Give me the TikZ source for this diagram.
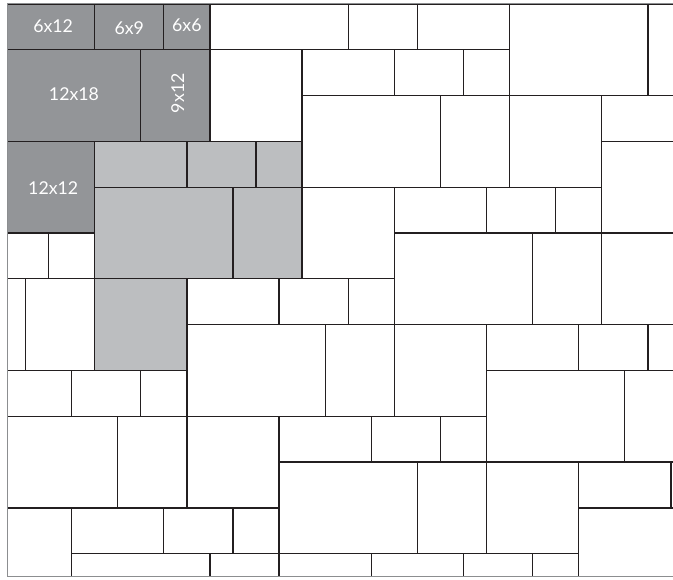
\documentclass[tikz,border=0pt]{standalone}
\usepackage{fontspec}
\setmainfont{Lato}
\usepackage{xcolor}
\definecolor{tiledark}{HTML}{939598}
\definecolor{tilelight}{HTML}{BCBEC0}
\definecolor{grout}{HTML}{231F20}
\definecolor{edgegray}{HTML}{8C8E90}

\begin{document}
\begin{tikzpicture}[
      x=0.503cm, y=-0.5cm,
      tile/.style={draw=grout, line width=0.8pt, fill=white},
      darktile/.style={tile, fill=tiledark},
      lighttile/.style={tile, fill=tilelight},
      size/.style={text=white, font=\fontsize{11}{13}\selectfont},
    ]
    \useasboundingbox (-0.108,-0.17) rectangle (29.09,25.13);
    \begin{scope}
      \clip (0.2,0) rectangle (29.1,25);
      % sample sizes
      \foreach \x/\y/\w/\h in {0/0/4/2, 4/0/3/2, 7/0/2/2, 0/2/6/4, 6/2/3/4, 0/6/4/4}
        \draw[darktile] (\x,\y) rectangle ++(\w,\h);
      % one full set
      \foreach \x/\y/\w/\h in {4/6/4/2, 8/6/3/2, 11/6/2/2, 4/8/6/4, 10/8/3/4, 4/12/4/4}
        \draw[lighttile] (\x,\y) rectangle ++(\w,\h);
      % Rows 0-8
      \foreach \x/\y/\w/\h in {9/0/6/2, 15/0/3/2, 18/0/4/2, 22/0/6/4, 28/0/2/4,
          9/2/4/4, 13/2/4/2, 17/2/3/2, 20/2/2/2,
          13/4/6/4, 19/4/3/4, 22/4/4/4, 26/4/4/2, 26/6/4/4}
        \draw[tile] (\x,\y) rectangle ++(\w,\h);
      % Rows 8-18
      \foreach \x/\y/\w/\h in {13/8/4/4, 17/8/4/2, 21/8/3/2, 24/8/2/2,
          17/10/6/4, 23/10/3/4, 26/10/4/4,
          0/10/2/2, 2/10/2/2, 0/12/1/4, 1/12/3/4,
          8/12/4/2, 12/12/3/2, 15/12/2/2,
          8/14/6/4, 14/14/3/4, 17/14/4/4,
          21/14/4/2, 25/14/3/2, 28/14/2/2, 21/16/6/4, 27/16/3/4,
          0/16/3/2, 3/16/3/2, 6/16/2/2}
        \draw[tile] (\x,\y) rectangle ++(\w,\h);
      % Rows 18-25
      \foreach \x/\y/\w/\h in {0/18/5/4, 5/18/3/4, 8/18/4/4,
          12/18/4/2, 16/18/3/2, 19/18/2/2,
          12/20/6/4, 18/20/3/4, 21/20/4/4,
          25/20/4/2, 29/20/1/2, 25/22/5/3,
          0/22/3/3, 3/22/4/2, 7/22/3/2, 10/22/2/2,
          3/24/6/1, 9/24/3/1, 12/24/4/1, 16/24/4/1, 20/24/3/1, 23/24/2/1}
        \draw[tile] (\x,\y) rectangle ++(\w,\h);
    \end{scope}
    \draw[edgegray, line width=0.7pt] (29.1,0) -- (0.2,0) -- (0.2,25) -- (29.1,25);

    % labels
    \node[size] (s612)  at (2.2,0.95) {6x12};
    \node[size] (s69)   at (5.5,1.05) {6x9};
    \node[size] (s66)   at (8,0.95)   {6x6};
    \node[size] (s1218) at (3.1,3.95) {12x18};
    \node[size, rotate=90] (s912) at (7.6,3.9) {9x12};
    \node[size] (s1212) at (2.2,8.05) {12x12};
  \end{tikzpicture}
\end{document}
